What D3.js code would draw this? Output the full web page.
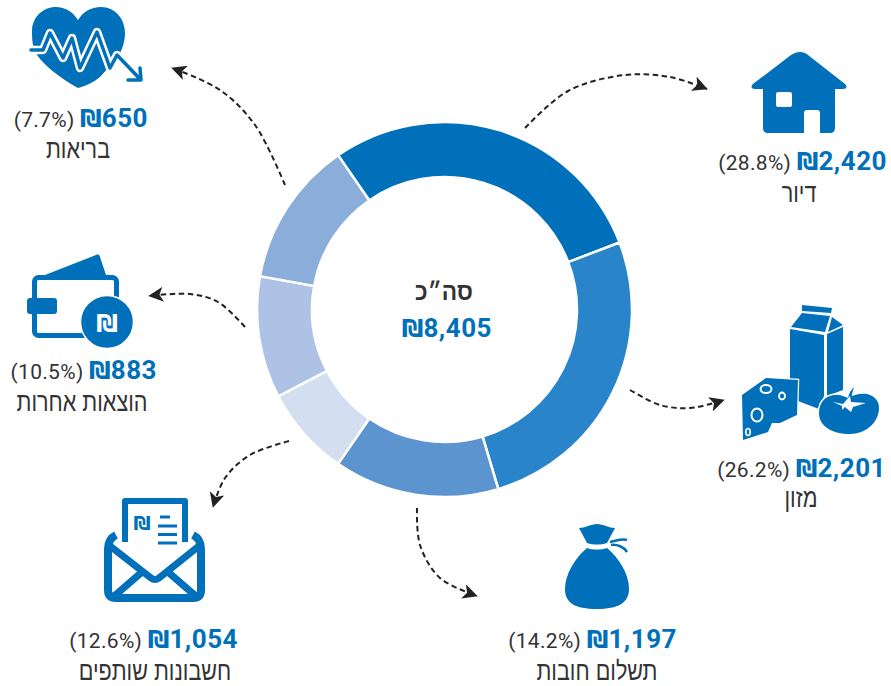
<!DOCTYPE html>
<html><head><meta charset="utf-8">
<script src="https://cdn.jsdelivr.net/npm/d3@7/dist/d3.min.js"></script>
<style>html,body{margin:0;padding:0;background:#fff}svg{display:block}
.num{font-family:Roboto,sans-serif;font-weight:700;fill:#0070ba;letter-spacing:.5px}
.shk{font-family:"DejaVu Sans",sans-serif;font-weight:700;fill:#0070ba}
.pct{font-family:Roboto,sans-serif;fill:#333;letter-spacing:.3px}
.lab{font-family:"Liberation Sans",sans-serif;fill:#333}</style>
</head><body><svg id="c" width="891" height="686"></svg>
<script>
const categories=["דיור","מזון","תשלום חובות","בריאות","הוצאות אחרות","חשבונות שותפים"];
const values=[2420,2201,1197,650,883,1054];
const percents=["28.8%","26.2%","14.2%","7.7%","10.5%","12.6%"];
const colors=["#0070ba","#2a84c9","#5b94cf","#d3dff0","#adc2e4","#8aadda"];
const totalLabel="סה״כ", total=8405, blue="#0070ba";
// layout of each label: right edge of the amount line, its baseline, centre and baseline of the name
const labelLayout=[[887,170,799,202],[886,477,801,507],[677,648,597,680],[148,127,78,158],[157,379,82,411],[238,648,155,680]];

const svg=d3.select("#c");
const cx=444.5,cy=309.5,R=187.5,r=132.5;
const pie=d3.pie().sort(null).startAngle(-34.6*Math.PI/180).endAngle(325.4*Math.PI/180);
const arc=d3.arc().innerRadius(r).outerRadius(R);
svg.append("g").attr("transform",`translate(${cx},${cy})`).selectAll("path").data(pie(values)).join("path")
 .attr("d",arc).attr("fill",(d,i)=>colors[i]).attr("stroke","#fff").attr("stroke-width",2.5);

const fmt=d3.format(",");
function amount(xr,y,v,p){
 const t=svg.append("text").attr("x",xr).attr("y",y).attr("text-anchor","end").attr("direction","ltr");
 if(p) t.append("tspan").attr("class","pct").attr("font-size",21).text("("+p+") ");
 t.append("tspan").attr("class","shk").attr("font-size",24).text("₪");
 t.append("tspan").attr("class","num").attr("font-size",26).text(fmt(v));
}
function name(x,y,s,size,scale,bold){
 svg.append("text").attr("class","lab").attr("transform",`translate(${x},${y}) scale(${scale},1)`).attr("text-anchor","middle")
  .attr("font-size",size).attr("direction","rtl").attr("font-weight",bold?700:400).text(s);
}
categories.forEach((c,i)=>{const l=labelLayout[i];amount(l[0],l[1],values[i],percents[i]);name(l[2],l[3],c,26,.83,false);});
name(444,300,totalLabel,24,.95,true);
amount(492,337,total,null);

// arrows
svg.append("defs").append("marker").attr("id","ah").attr("viewBox","0 0 10 10").attr("refX",9.5).attr("refY",5).attr("markerWidth",19).attr("markerHeight",15).attr("markerUnits","userSpaceOnUse").attr("orient","auto")
 .append("path").attr("d","M0,0L10,5L0,10L2.5,5Z").attr("fill","#222");
const arrows=[
 [[525,128],[568,91],[625,75],[670,77],[707,89]],
 [[630,390],[660,405],[690,408],[724,400]],
 [[417,508],[420,545],[440,578],[477,596]],
 [[289,441],[250,455],[225,478],[213,507]],
 [[245,327],[218,302],[190,294],[149,296]],
 [[285,185],[255,125],[220,90],[172,68]]];
const ln=d3.line().curve(d3.curveCatmullRom);
arrows.forEach(a=>svg.append("path").attr("d",ln(a)).attr("fill","none").attr("stroke","#222").attr("stroke-width",2).attr("stroke-dasharray","5.5 3.5").attr("marker-end","url(#ah)"));

// icons
const ic=svg.append("g").attr("fill",blue);
// heart
ic.append("path").attr("d","M78,88C60,78 45,66 37,55C32,47 32,38 32,30C33,14 46,7 56,7C65,7 73,12 78,20C83,12 91,7 101,7C115,7 125,19 125,33C125,42 122,50 118,57L100,77C93,83 85,86 78,88Z");
const pulse="M31,50L43,50L50,33L63,58L72,38L80,68L97,32L110,68L117,55L140,79M128,80L141,80L140,68";
ic.append("path").attr("d",pulse).attr("fill","none").attr("stroke","#fff").attr("stroke-width",8.5).attr("stroke-linejoin","round");
ic.append("path").attr("d",pulse).attr("fill","none").attr("stroke",blue).attr("stroke-width",3.5).attr("stroke-linejoin","round").attr("stroke-linecap","round");
// house
ic.append("path").attr("fill-rule","evenodd").attr("d","M800,52C803,52 806,53 808,55L845,84C848,87 846,89 843,89L835,89L835,128C835,131 833,133 830,133L820,133L820,113C820,111 819,110 817,110L807,110C805,110 804,111 804,113L804,133L768,133C765,133 763,131 763,128L763,89L755,89C752,89 750,87 753,84L791,55C794,53 797,52 800,52ZM778,92L790,92C791,92 792,93 792,94L792,105C792,106 791,107 790,107L778,107C777,107 776,106 776,105L776,94C776,93 777,92 778,92Z");
// carton
ic.append("path").attr("d","M802,305L832,308L831,313L802,311ZM802,313L830,316L825,332L791,327ZM832,317L843,325L828,332ZM790,329L824,335L824,396L819,409L790,398ZM827,334L843,327L843,390L827,396Z");
// cheese
ic.append("path").attr("stroke","#fff").attr("stroke-width",2.5).attr("paint-order","stroke").attr("d","M742,395L766,378L798,380L797,415L780,423L772,423L768,432L743,440Z");
ic.append("ellipse").attr("cx",757).attr("cy",415).attr("rx",5.5).attr("ry",6.5).attr("fill",blue).attr("stroke","#fff").attr("stroke-width",2);
ic.append("ellipse").attr("cx",782).attr("cy",396).attr("rx",3).attr("ry",3.5).attr("fill",blue).attr("stroke","#fff").attr("stroke-width",1.8);
ic.append("ellipse").attr("cx",748).attr("cy",432).attr("rx",2.2).attr("ry",3.5).attr("fill",blue).attr("stroke","#fff").attr("stroke-width",1.6);
ic.append("ellipse").attr("cx",766).attr("cy",389).attr("rx",5.5).attr("ry",4).attr("fill",blue).attr("stroke","#fff").attr("stroke-width",2);
// tomato
ic.append("path").attr("stroke","#fff").attr("stroke-width",3).attr("paint-order","stroke").attr("d","M819,413C819,401 827,394 838,395C842,395 845,397 848,398C853,395 860,393 867,394C875,396 879,401 879,408C879,422 866,434 850,434C833,434 819,427 819,413Z");
svg.append("path").attr("fill","#fff").attr("d","M833,402L843,404L850,396L851,402L866,403L853,407L851,412L845,407L842,410L842,406Z");
ic.append("path").attr("d","M846,403L850,392L854,387L852,394L851,403Z");
// wallet
ic.append("path").attr("d","M45,275L96,255C98,254 100,255 100,257L106,275Z");
ic.append("rect").attr("x",34.5).attr("y",277.5).attr("width",82).attr("height",58).attr("rx",4).attr("fill","none").attr("stroke",blue).attr("stroke-width",5);
ic.append("rect").attr("x",27).attr("y",298).attr("width",30).attr("height",16).attr("rx",3);
ic.append("circle").attr("cx",107).attr("cy",322).attr("r",26.5).attr("stroke","#fff").attr("stroke-width",1.5);
svg.append("text").attr("x",107).attr("y",332).attr("text-anchor","middle").attr("font-family","DejaVu Sans").attr("font-weight",700).attr("font-size",24).attr("fill","#fff").text("₪");
// envelope
ic.append("path").attr("d","M125,542L125,501L185,501L185,542").attr("fill","none").attr("stroke",blue).attr("stroke-width",6).attr("stroke-linejoin","round");
ic.append("path").attr("d","M116,535C110,538 108,543 108,549L108,590Q108,598 116,598L193,598Q201,598 201,590L201,549C201,543 199,538 193,535").attr("fill","none").attr("stroke",blue).attr("stroke-width",8);
ic.append("path").attr("d","M110,546L151,578Q155,581 159,578L199,546M142,572L112,598M168,572L198,598").attr("fill","none").attr("stroke",blue).attr("stroke-width",7);
svg.append("text").attr("x",142).attr("y",530).attr("text-anchor","middle").attr("font-family","DejaVu Sans").attr("font-weight",700).attr("font-size",19).attr("fill",blue).text("₪");
ic.append("path").attr("d","M160,515.500h10v3h-10zM158,524.500h19v3h-19zM158,533h19v3h-19zM158,541.500h19v3h-19z");
// bag
ic.append("path").attr("d","M579,528C585,528 591,524 597,524C603,524 609,528 615,528C612,534 609,539 607,543C600,545 594,545 587,543C585,539 582,534 579,528ZM587,548C593,550 601,550 607,548C619,558 629,574 629,589C629,603 618,609 597,609C575,609 565,603 565,589C565,574 575,558 587,548Z");
ic.append("path").attr("d","M610,542C616,541 622,538 627,540M611,545C617,544 624,547 627,552").attr("fill","none").attr("stroke",blue).attr("stroke-width",2.5);
</script></body></html>
